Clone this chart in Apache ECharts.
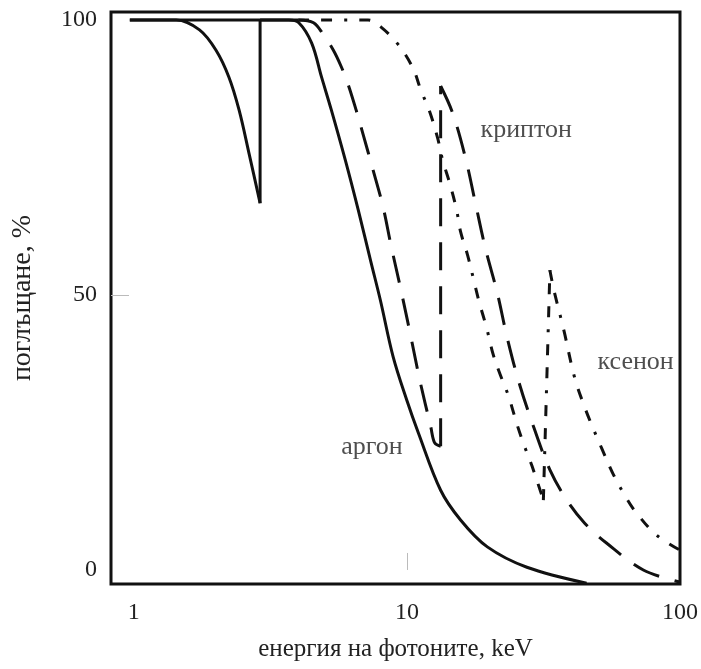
<!DOCTYPE html>
<html>
<head>
<meta charset="utf-8">
<script src="https://cdn.jsdelivr.net/npm/echarts@6/dist/echarts.min.js"></script>
<style>
html,body{margin:0;padding:0;background:#fff;}
#chart{width:701px;height:669px;}
</style>
</head>
<body>
<div id="chart"></div>
<script>
// ---- data (photon energy keV, absorption %) ----
const plateauE   = [0.967, 4.0];
const plateauAbs = [100, 100];

const argonE   = [0.967, 1.43, 1.74, 2.0, 2.23, 2.43, 2.64, 2.9, 2.9, 3.69, 4.02, 4.48, 4.87, 5.29, 5.95, 6.63, 7.40, 8.0, 8.9, 10.0, 11.0, 13.29, 15.72, 19.7, 27.5, 45.5];
const argonAbs = [100, 100, 98.2, 94.5, 89.6, 83.6, 75.8, 66.7, 100, 100, 99.5, 95.8, 89.6, 83.6, 74.5, 65.5, 55.8, 49.0, 38.8, 30.8, 25.0, 14.5, 9.1, 4.2, 0.5, -2.4];

const kryptonE   = [4.0, 4.55, 4.95, 5.38, 5.75, 6.10, 6.52, 6.92, 7.52, 8.18, 8.74, 9.51, 10.34, 11.15, 12.23, 12.64, 13.29, 13.29, 14.70, 16.39, 17.82, 19.38, 21.42, 23.30, 25.76, 29.21, 33.39, 38.5, 44.77, 53.8, 73.4, 100];
const kryptonAbs = [100, 99.5, 97.3, 94.5, 91.5, 88.2, 83.6, 79.1, 72.7, 66.0, 59.1, 50.9, 42.4, 34.5, 26.0, 23.1, 22.5, 88.0, 83.1, 74.9, 66.7, 58.5, 50.4, 42.2, 34.0, 25.8, 18.2, 12.7, 8.5, 4.9, 0, -2.2];

const xenonE   = [4.0, 7.21, 8.04, 9.27, 10.51, 11.24, 12.12, 12.96, 13.52, 14.33, 15.20, 15.72, 16.67, 17.67, 18.44, 19.54, 20.72, 21.97, 23.49, 25.33, 26.86, 28.72, 31.6, 33.39, 34.53, 37.55, 41.17, 44.77, 48.68, 51.6, 57.1, 63.6, 69.2, 81.8, 100];
const xenonAbs = [100, 100, 98.7, 95.6, 91.3, 87.3, 83.3, 78.5, 74.5, 70.4, 65.5, 61.5, 57.3, 52.2, 48.5, 44.2, 39.1, 35.5, 31.8, 26.4, 22.7, 18.9, 12.7, 54.5, 50.9, 43.6, 34.9, 29.6, 25.1, 22.2, 17.3, 13.1, 10.4, 6.4, 3.6];

// curve labels: [text, energy, absorption]
const labelTexts = ['криптон', 'ксенон', 'аргон'];
const labelE     = [18.6, 49.9, 5.75];
const labelAbs   = [80, 37.8, 22.4];

const xTickLabels = [1, 10, 100];
const yTickLabels = [0, 50, 100];

const xName = 'енергия на фотоните, keV';
const yName = 'поглъщане, %';

// ---- build ----
const FONT = '"Liberation Serif", "DejaVu Serif", serif';
const INK = '#111';

// split a curve into smooth pieces and straight absorption-edge jumps
function pieces(E, A) {
  const out = [];
  let cur = [[E[0], A[0]]];
  for (let i = 1; i < E.length; i++) {
    if (A[i] - A[i - 1] > 10) {           // absorption edge: jump upward
      out.push({pts: cur, smooth: true});
      out.push({pts: [[E[i - 1], A[i - 1]], [E[i], A[i]]], smooth: false});
      cur = [[E[i], A[i]]];
    } else {
      cur.push([E[i], A[i]]);
    }
  }
  out.push({pts: cur, smooth: true});
  return out;
}

function curveSeries(name, E, A, lineStyle) {
  return pieces(E, A).map((p, k) => ({
    name: name, id: name + k, type: 'line', data: p.pts, showSymbol: false,
    smooth: p.smooth ? 0.35 : false,
    lineStyle: Object.assign({color: INK, width: 3, join: 'round'}, lineStyle)
  }));
}

const series = [].concat(
  curveSeries('плато', plateauE, plateauAbs, {}),
  curveSeries('аргон', argonE, argonAbs, {}),
  curveSeries('криптон', kryptonE, kryptonAbs, {type: [28, 16]}),
  curveSeries('ксенон', xenonE, xenonAbs, {type: [11, 12, 11, 12, 3, 12]}),
  [{name: 'labels', type: 'scatter', symbolSize: 0, silent: true,
    data: labelTexts.map((t, i) => ({value: [labelE[i], labelAbs[i]], name: t})),
    label: {show: true, position: 'right', distance: 0, formatter: p => p.name, fontFamily: FONT, fontSize: 26, color: '#222'}}]
);

const chart = echarts.init(document.getElementById('chart'), null, {renderer: 'canvas'});
chart.setOption({
  animation: false,
  backgroundColor: '#fff',
  grid: {left: 111, top: 12, right: 16, bottom: 85, show: true, borderColor: '#111', borderWidth: 3, backgroundColor: 'transparent'},
  xAxis: {
    type: 'log', logBase: 10, min: 0.825, max: 100,
    axisLine: {show: false},
    splitLine: {show: false},
    axisTick: {show: true, inside: true, length: 17, customValues: [10], lineStyle: {color: '#bbb', width: 1}},
    axisLabel: {customValues: xTickLabels, fontFamily: FONT, fontSize: 24, color: '#222', margin: 17},
    name: xName, nameLocation: 'middle', nameGap: 53,
    nameTextStyle: {fontFamily: FONT, fontSize: 25, color: '#222'}
  },
  yAxis: {
    type: 'value', min: -2.55, max: 101.45,
    axisLine: {show: false},
    splitLine: {show: false},
    axisTick: {show: true, inside: true, length: 18, customValues: [50], lineStyle: {color: '#bbb', width: 1}},
    axisLabel: {customValues: yTickLabels, fontFamily: FONT, fontSize: 24, color: '#222', margin: 14},
    name: yName, nameLocation: 'middle', nameGap: 74, nameRotate: 90,
    nameTextStyle: {fontFamily: FONT, fontSize: 28, color: '#222'}
  },
  series: series
});
</script>
</body>
</html>
